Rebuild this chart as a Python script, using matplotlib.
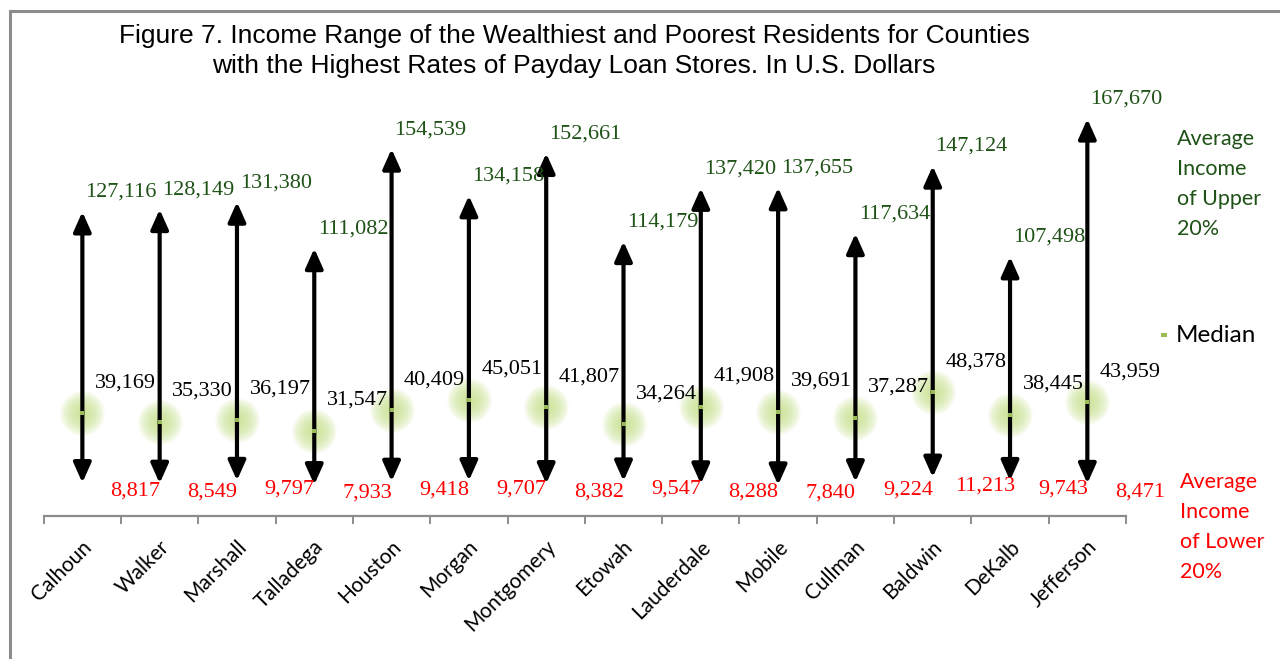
import matplotlib
matplotlib.use("Agg")
import matplotlib.pyplot as plt
import matplotlib.transforms as mtransforms
from matplotlib.patches import Rectangle
import numpy as np

counties = ["Calhoun", "Walker", "Marshall", "Talladega", "Houston", "Morgan",
            "Montgomery", "Etowah", "Lauderdale", "Mobile", "Cullman", "Baldwin",
            "DeKalb", "Jefferson"]
upper = [127116, 128149, 131380, 111082, 154539, 134158, 152661, 114179,
         137420, 137655, 117634, 147124, 107498, 167670]
median = [39169, 35330, 36197, 31547, 40409, 45051, 41807, 34264, 41908,
          39691, 37287, 48378, 38445, 43959]
lower = [8817, 8549, 9797, 7933, 9418, 9707, 8382, 9547, 8288, 7840, 9224,
         11213, 9743, 8471]

title = ("Figure 7. Income Range of the Wealthiest and Poorest Residents for Counties\n"
         "with the Highest Rates of Payday Loan Stores. In U.S. Dollars")

W, H = 1280, 659
fig = plt.figure(figsize=(W / 100, H / 100), dpi=100)
fig.patch.set_facecolor("white")

# axes placement in pixels
ax_left, ax_right, ax_top, ax_bottom = 43.7, 1126, 90, 516
ax = fig.add_axes([ax_left / W, 1 - ax_bottom / H, (ax_right - ax_left) / W,
                   (ax_bottom - ax_top) / H])
ax.set_xlim(-0.5, len(counties) - 0.5)
ax.set_ylim(-5700, 180300)

for s in ["left", "right", "top"]:
    ax.spines[s].set_visible(False)
ax.spines["bottom"].set_color("#8c8c8c")
ax.spines["bottom"].set_linewidth(1.6)
ax.set_yticks([])
ax.set_xticks(np.arange(-0.5, len(counties), 1.0))
ax.tick_params(axis="x", direction="out", length=6, width=1.4, color="#8c8c8c",
               labelbottom=False)

serif = "Liberation Serif"
sans = "Lato"
green_txt = "#1f5217"
red_txt = "#ff0000"
x = np.arange(len(counties))

# glow + median markers
glow = "#c9e38f"
for d in np.linspace(32, 6, 12):
    ax.scatter(x, median, s=d ** 2, color=glow, alpha=0.13, linewidths=0, zorder=2)

# arrows
for i in range(len(counties)):
    ax.annotate("", xy=(x[i], upper[i]), xytext=(x[i], lower[i]),
                arrowprops=dict(arrowstyle="<|-|>,head_width=0.38,head_length=0.85",
                                lw=3.0, color="black", shrinkA=0, shrinkB=0,
                                mutation_scale=14),
                zorder=3)

ax.scatter(x, median, marker="s", s=12, color="#9bbb59", linewidths=0, zorder=4)

# labels
for i in range(len(counties)):
    ax.annotate(f"{upper[i]:,}", xy=(x[i], upper[i]), xytext=(28, 14),
                textcoords="offset points", ha="center", va="center",
                fontsize=16, family=serif, color=green_txt, zorder=5)
    ax.annotate(f"{median[i]:,}", xy=(x[i], median[i]), xytext=(31, 22),
                textcoords="offset points", ha="center", va="center",
                fontsize=16, family=serif, color="black", zorder=5)
    ax.annotate(f"{lower[i]:,}", xy=(x[i], lower[i]), xytext=(38, -6),
                textcoords="offset points", ha="center", va="center",
                fontsize=16, family=serif, color=red_txt, zorder=5)

# category labels
trans = mtransforms.blended_transform_factory(ax.transData, ax.transAxes)
for i, name in enumerate(counties):
    ax.text(x[i] + 0.08, -0.065, name, transform=trans, rotation=45,
            ha="right", va="center", rotation_mode="anchor",
            fontsize=15, family=sans, color="black")

# title
fig.text(574 / W, 1 - 51 / H, title, ha="center", va="center", fontsize=19,
         family="Liberation Sans", color="black", linespacing=1.3)

# right side annotations
fig.text(1177 / W, 1 - 184 / H, "Average\nIncome\nof Upper\n20%", ha="left",
         va="center", fontsize=15.5, family=sans, color=green_txt, linespacing=1.62)
fig.text(1176 / W, 1 - 335 / H, "Median", ha="left", va="center", fontsize=17.5,
         family=sans, color="black")
fig.add_artist(Rectangle((1161 / W, 1 - 337 / H), 6 / W, 4 / H,
                         transform=fig.transFigure, color="#9bbb59", lw=0))
fig.text(1180 / W, 1 - 527 / H, "Average\nIncome\nof Lower\n20%", ha="left",
         va="center", fontsize=15.5, family=sans, color=red_txt, linespacing=1.62)

# outer frame
fig.add_artist(Rectangle((10 / W, -0.05), 1.2, 1 - 11 / H + 0.05,
                         transform=fig.transFigure, fill=False,
                         edgecolor="#8c8c8c", lw=2.2))

fig.savefig("out.png", dpi=100, facecolor="white")
